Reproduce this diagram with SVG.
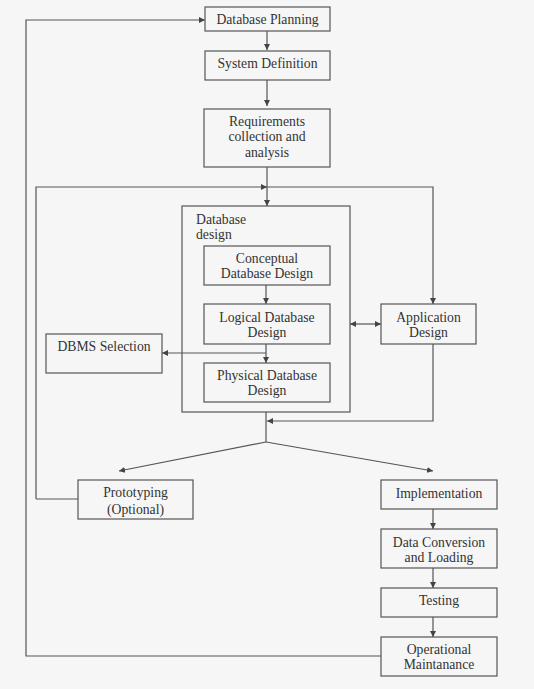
<svg xmlns="http://www.w3.org/2000/svg" width="534" height="689" viewBox="0 0 534 689">
<defs>
<marker id="ah" viewBox="0 0 10 10" refX="10" refY="5" markerWidth="6" markerHeight="6" markerUnits="userSpaceOnUse" orient="auto-start-reverse">
<path d="M0,0 L10,5 L0,10 z" fill="#444"/>
</marker>
<style>
.box{fill:none;stroke:#555;stroke-width:1.2}
.t{font-family:"Liberation Serif","Times New Roman",serif;font-size:13.7px;fill:#333;text-anchor:middle}
.tl{font-family:"Liberation Serif","Times New Roman",serif;font-size:13.7px;fill:#333}
.c{fill:none;stroke:#555;stroke-width:1.2}
</style>
</defs>
<rect width="534" height="689" fill="#f6f6f6"/>
<g id="connectors">
<path class="c" d="M267,31 V50" marker-end="url(#ah)"/>
<path class="c" d="M267,80 V106" marker-end="url(#ah)"/>
<path class="c" d="M267,167 V206" marker-end="url(#ah)"/>
<path class="c" d="M36,499 V187 H267" marker-end="url(#ah)"/>
<path class="c" d="M267,187 H433 V304" marker-end="url(#ah)"/>
<path class="c" d="M266,285 V304" marker-end="url(#ah)"/>
<path class="c" d="M266,344 V363" marker-end="url(#ah)"/>
<path class="c" d="M266,353 H162" marker-end="url(#ah)"/>
<path class="c" d="M350,324 H381" marker-start="url(#ah)" marker-end="url(#ah)"/>
<path class="c" d="M433,344 V421 H267" marker-end="url(#ah)"/>
<path class="c" d="M266,412 V442"/>
<path class="c" d="M266,442 L119,471" marker-end="url(#ah)"/>
<path class="c" d="M266,442 L433,471" marker-end="url(#ah)"/>
<path class="c" d="M78,499 H36"/>
<path class="c" d="M433,509 V529" marker-end="url(#ah)"/>
<path class="c" d="M433,568 V588" marker-end="url(#ah)"/>
<path class="c" d="M433,617 V637" marker-end="url(#ah)"/>
<path class="c" d="M381,656 H26 V20 H205" marker-end="url(#ah)"/>
</g>
<g id="database-planning">
<rect class="box" x="205" y="7" width="125" height="24"/>
<text class="t" x="267.5" y="23.5">Database Planning</text>
</g>
<g id="system-definition">
<rect class="box" x="205" y="51" width="125" height="29"/>
<text class="t" x="267.5" y="67.5">System Definition</text>
</g>
<g id="requirements">
<rect class="box" x="204" y="109" width="126" height="58"/>
<text class="t" x="267" y="125.5">Requirements</text>
<text class="t" x="267" y="140.5">collection and</text>
<text class="t" x="267" y="156.5">analysis</text>
</g>
<g id="database-design">
<rect class="box" x="182" y="206" width="168" height="206"/>
<text class="tl" x="196" y="223.5">Database</text>
<text class="tl" x="196" y="238.5">design</text>
</g>
<g id="conceptual">
<rect class="box" x="204" y="246" width="126" height="39"/>
<text class="t" x="267" y="262.5">Conceptual</text>
<text class="t" x="267" y="277.5">Database Design</text>
</g>
<g id="logical">
<rect class="box" x="204" y="304" width="126" height="40"/>
<text class="t" x="267" y="321.5">Logical Database</text>
<text class="t" x="267" y="336.5">Design</text>
</g>
<g id="physical">
<rect class="box" x="204" y="363" width="126" height="39"/>
<text class="t" x="267" y="379.5">Physical Database</text>
<text class="t" x="267" y="394.5">Design</text>
</g>
<g id="dbms-selection">
<rect class="box" x="46" y="334" width="116" height="39"/>
<text class="t" x="104" y="350.5">DBMS Selection</text>
</g>
<g id="application-design">
<rect class="box" x="381" y="304" width="95" height="40"/>
<text class="t" x="428.5" y="321.5">Application</text>
<text class="t" x="428.5" y="336.5">Design</text>
</g>
<g id="prototyping">
<rect class="box" x="78" y="480" width="115" height="39"/>
<text class="t" x="135.5" y="496.5">Prototyping</text>
<text class="t" x="135.5" y="513.5">(Optional)</text>
</g>
<g id="implementation">
<rect class="box" x="381" y="480" width="116" height="29"/>
<text class="t" x="439" y="497.5">Implementation</text>
</g>
<g id="data-conversion">
<rect class="box" x="381" y="529" width="116" height="39"/>
<text class="t" x="439" y="546.5">Data Conversion</text>
<text class="t" x="439" y="561.5">and Loading</text>
</g>
<g id="testing">
<rect class="box" x="381" y="588" width="116" height="29"/>
<text class="t" x="439" y="604.5">Testing</text>
</g>
<g id="operational-maintenance">
<rect class="box" x="381" y="637" width="116" height="39"/>
<text class="t" x="439" y="653.5">Operational</text>
<text class="t" x="439" y="668.5">Maintanance</text>
</g>
</svg>
